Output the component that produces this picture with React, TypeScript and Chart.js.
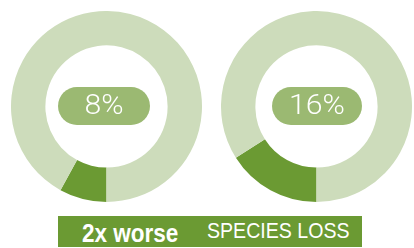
import React, { useEffect, useRef } from "react";
import { Chart, registerables } from "chart.js";

Chart.register(...registerables);

const charts = ["Current", "Projected"];
const lossValues = [8, 16];
const pillLabels = ["8%", "16%"];
const bannerBold = "2x worse";
const bannerText = "SPECIES LOSS";

const DARK = "#6b9a33";
const LIGHT = "#cddcbb";
const PILL = "#9bb972";

function Donut({ value, left }: { value: number; left: number }) {
  const ref = useRef<HTMLCanvasElement | null>(null);
  useEffect(() => {
    if (!ref.current) return;
    const chart = new Chart(ref.current, {
      type: "doughnut",
      data: {
        labels: ["Loss", "Remaining"],
        datasets: [
          {
            data: [value, 100 - value],
            backgroundColor: [DARK, LIGHT],
            borderWidth: 0,
            hoverOffset: 0,
          },
        ],
      },
      options: {
        responsive: false,
        animation: false,
        rotation: 180,
        cutout: "64%",
        layout: { padding: 0 },
        plugins: { legend: { display: false }, tooltip: { enabled: false } },
        events: [],
      },
    });
    return () => chart.destroy();
  }, [value]);
  return (
    <canvas
      ref={ref}
      width={191}
      height={191}
      style={{ position: "absolute", left, top: 11, width: 191, height: 191 }}
    />
  );
}

export default function App() {
  const lefts = [11, 221];
  const pills = [
    { left: 58, width: 92 },
    { left: 272, width: 90 },
  ];
  return (
    <div
      style={{
        position: "fixed",
        left: 0,
        top: 0,
        width: 414,
        height: 248,
        background: "#fff",
        overflow: "hidden",
      }}
    >
      {charts.map((c, i) => (
        <Donut key={c} value={lossValues[i]} left={lefts[i]} />
      ))}
      {pillLabels.map((t, i) => (
        <div
          key={t}
          style={{
            position: "absolute",
            left: pills[i].left,
            top: 87,
            width: pills[i].width,
            height: 38,
            borderRadius: 19,
            background: PILL,
          }}
        >
          <div
            style={{
              position: "absolute",
              left: 0,
              top: -1,
              width: "100%",
              color: "#fff",
              fontFamily: "Roboto, 'Liberation Sans', sans-serif",
              fontWeight: 300,
              fontSize: 27,
              lineHeight: "38px",
              textAlign: "center",
              transform: "scaleX(1.12)",
            }}
          >
            {t}
          </div>
        </div>
      ))}
      <div
        style={{
          position: "absolute",
          left: 58,
          top: 216,
          width: 304,
          height: 31,
          background: DARK,
          color: "#fff",
          fontFamily: "'Liberation Sans', Arial, sans-serif",
          whiteSpace: "nowrap",
        }}
      >
        <span
          style={{
            position: "absolute",
            left: 24,
            top: 1.5,
            lineHeight: "31px",
            fontSize: 25,
            fontWeight: 700,
            transform: "scaleX(0.9)",
            transformOrigin: "left center",
          }}
        >
          {bannerBold}
        </span>
        <span
          style={{
            position: "absolute",
            left: 149,
            top: -1,
            lineHeight: "31px",
            fontSize: 22,
            fontWeight: 400,
            transform: "scaleX(0.89)",
            transformOrigin: "left center",
          }}
        >
          {bannerText}
        </span>
      </div>
    </div>
  );
}
